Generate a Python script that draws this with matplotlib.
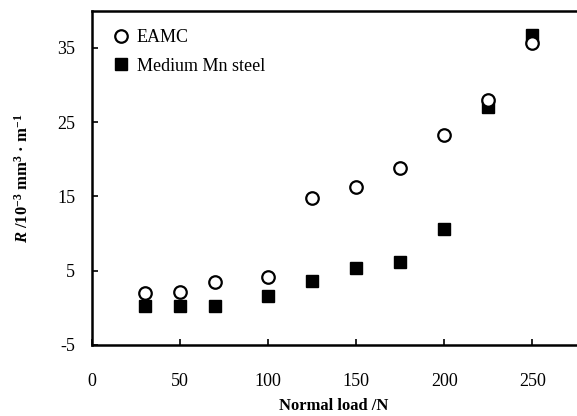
import matplotlib
matplotlib.use("Agg")
import matplotlib.pyplot as plt

# Normal load (N) and wear rate R (10^-3 mm^3/m)
loads = [30, 50, 70, 100, 125, 150, 175, 200, 225, 250]
eamc = [2.0, 2.1, 3.5, 4.1, 14.8, 16.3, 18.8, 23.3, 28.0, 35.6]
mn_steel = [0.2, 0.2, 0.2, 1.6, 3.6, 5.3, 6.1, 10.6, 27.0, 36.8]

x_ticks = [0, 50, 100, 150, 200, 250]
y_ticks = [-5, 5, 15, 25, 35]

plt.rcParams["font.family"] = ["Liberation Serif", "DejaVu Serif"]
plt.rcParams["axes.unicode_minus"] = False
plt.rcParams["mathtext.fontset"] = "custom"
plt.rcParams["mathtext.rm"] = "Liberation Serif:bold"
plt.rcParams["mathtext.it"] = "Liberation Serif:italic:bold"
plt.rcParams["mathtext.bf"] = "Liberation Serif:bold"

fig = plt.figure(figsize=(5.77, 4.16), dpi=100)
ax = fig.add_axes([0.159, 0.171, 0.84, 0.803])

ax.plot(loads, eamc, linestyle="none", marker="o", markersize=9,
        markerfacecolor="white", markeredgecolor="black", markeredgewidth=1.6,
        label="EAMC", zorder=3)
ax.plot(loads, mn_steel, linestyle="none", marker="s", markersize=9,
        color="black", label="Medium Mn steel", zorder=2)

ax.set_xlim(0, 275)
ax.set_ylim(-5, 40)
ax.set_xticks(x_ticks)
ax.set_yticks(y_ticks)
ax.tick_params(direction="in", length=4, width=1.2, labelsize=13)
ax.tick_params(axis="x", pad=20)
ax.tick_params(axis="y", pad=12)
for s in ax.spines.values():
    s.set_linewidth(1.8)
ax.spines["right"].set_visible(False)

ax.set_xlabel("Normal load /N", fontsize=12, fontweight="bold", labelpad=6)
ax.set_ylabel(r"$\mathit{R}$ /10$^{-3}$ mm$^{3}$ · m$^{-1}$",
              fontsize=12, fontweight="bold", labelpad=18)

ax.legend(loc="upper left", frameon=False, fontsize=13, handletextpad=0.3,
          borderaxespad=0.6, labelspacing=0.65, handlelength=1.2)

fig.savefig("out.png", dpi=100)
